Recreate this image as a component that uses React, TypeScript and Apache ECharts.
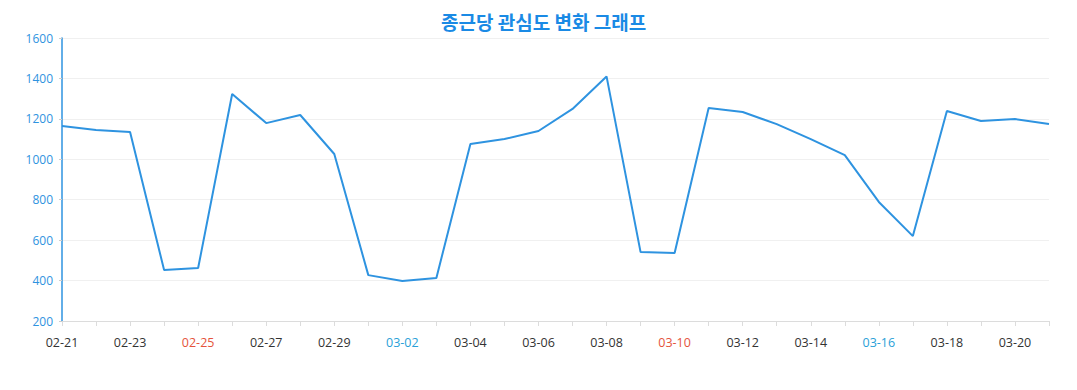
import React, { useEffect, useRef } from "react";
import * as echarts from "echarts";

const categories = [
  "02-21", "02-22", "02-23", "02-24", "02-25", "02-26", "02-27", "02-28", "02-29",
  "03-01", "03-02", "03-03", "03-04", "03-05", "03-06", "03-07", "03-08", "03-09",
  "03-10", "03-11", "03-12", "03-13", "03-14", "03-15", "03-16", "03-17", "03-18",
  "03-19", "03-20", "03-21",
];

const interestValues = [
  1165, 1145, 1135, 452, 462, 1323, 1179, 1219, 1026,
  427, 398, 413, 1076, 1100, 1140, 1249, 1410, 541,
  536, 1254, 1234, 1174, 1100, 1021, 789, 620, 1239,
  1189, 1199, 1174,
];

const saturdays = ["02-24", "03-02", "03-09", "03-16"];
const sundays = ["02-25", "03-03", "03-10", "03-17"];

const titleText = "종근당 관심도 변화 그래프";

export default function App() {
  const ref = useRef<HTMLDivElement>(null);

  useEffect(() => {
    if (!ref.current) return;
    const chart = echarts.init(ref.current, undefined, { renderer: "svg" });
    chart.setOption({
      animation: false,
      title: {
        text: titleText,
        left: 436,
        top: 7,
        textStyle: {
          color: "#1a8ae5",
          fontSize: 19,
          fontWeight: "bold",
          fontFamily: "'Noto Sans CJK KR', 'Noto Sans', sans-serif",
        },
      },
      grid: { left: 62, right: 28, top: 38, bottom: 69 },
      xAxis: {
        type: "category",
        data: categories,
        boundaryGap: false,
        axisLine: { lineStyle: { color: "#dcdcdc", width: 1 } },
        axisTick: { show: true, interval: 0, lineStyle: { color: "#dcdcdc" } },
        axisLabel: {
          interval: 1,
          margin: 15,
          fontSize: 12.5,
          fontFamily: "'Open Sans', 'Noto Sans', sans-serif",
          color: (v: string) =>
            saturdays.includes(v) ? "#2a9fd8" : sundays.includes(v) ? "#e5533c" : "#333333",
        },
        splitLine: { show: false },
      },
      yAxis: {
        type: "value",
        min: 200,
        max: 1600,
        interval: 200,
        axisLine: { show: true, lineStyle: { color: "#2e93e0", width: 1.5 } },
        axisTick: { show: true, length: 3, lineStyle: { color: "#cccccc" } },
        axisLabel: {
          color: "#2e93e0",
          fontSize: 12,
          margin: 9,
          formatter: (v: number) => String(v),
          fontFamily: "'Open Sans', 'Noto Sans', sans-serif",
        },
        splitLine: { lineStyle: { color: "#f0f0f0" } },
      },
      series: [
        {
          type: "line",
          data: interestValues,
          showSymbol: false,
          symbol: "none",
          lineStyle: { color: "#2e93e0", width: 2 },
          itemStyle: { color: "#2e93e0" },
        },
      ],
    });
    return () => chart.dispose();
  }, []);

  return (
    <div
      ref={ref}
      style={{ position: "absolute", left: 0, top: 0, width: 1077, height: 390 }}
    />
  );
}
